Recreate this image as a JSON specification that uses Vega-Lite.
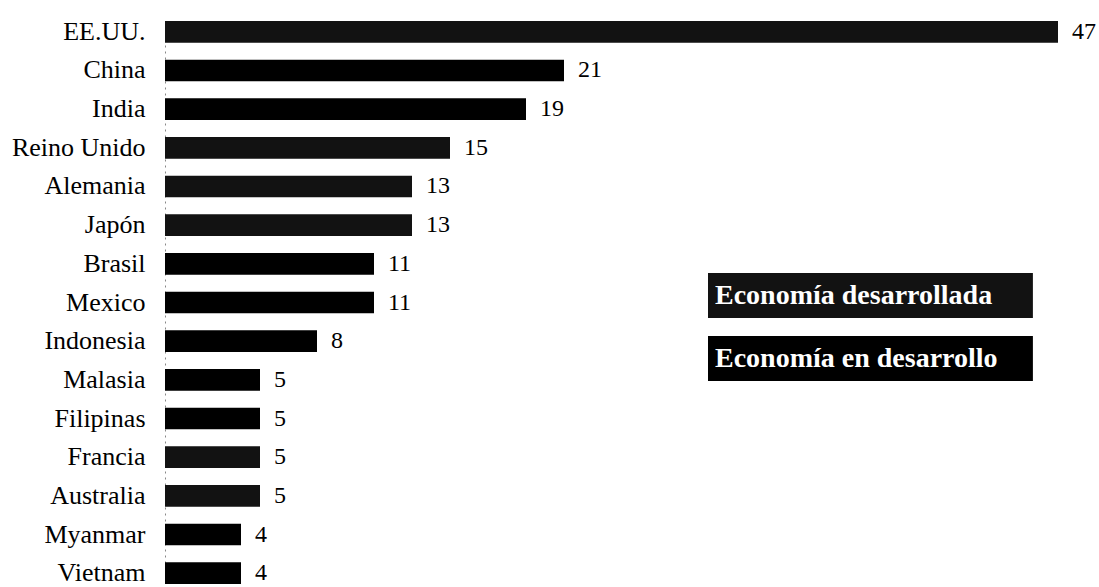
{
  "$schema": "https://vega.github.io/schema/vega-lite/v6.json",
  "width": 893,
  "height": 563,
  "autosize": {"type": "none"},
  "padding": {"left": 165, "top": 21, "right": 41, "bottom": 3},
  "background": "white",
  "config": {"view": {"stroke": null}, "font": "Liberation Serif"},
  "data": {
    "values": [
      {"pais": "EE.UU.", "valor": 47, "tipo": "Economía desarrollada"},
      {"pais": "China", "valor": 21, "tipo": "Economía en desarrollo"},
      {"pais": "India", "valor": 19, "tipo": "Economía en desarrollo"},
      {"pais": "Reino Unido", "valor": 15, "tipo": "Economía desarrollada"},
      {"pais": "Alemania", "valor": 13, "tipo": "Economía desarrollada"},
      {"pais": "Japón", "valor": 13, "tipo": "Economía desarrollada"},
      {"pais": "Brasil", "valor": 11, "tipo": "Economía en desarrollo"},
      {"pais": "Mexico", "valor": 11, "tipo": "Economía en desarrollo"},
      {"pais": "Indonesia", "valor": 8, "tipo": "Economía en desarrollo"},
      {"pais": "Malasia", "valor": 5, "tipo": "Economía en desarrollo"},
      {"pais": "Filipinas", "valor": 5, "tipo": "Economía en desarrollo"},
      {"pais": "Francia", "valor": 5, "tipo": "Economía desarrollada"},
      {"pais": "Australia", "valor": 5, "tipo": "Economía desarrollada"},
      {"pais": "Myanmar", "valor": 4, "tipo": "Economía en desarrollo"},
      {"pais": "Vietnam", "valor": 4, "tipo": "Economía en desarrollo"}
    ]
  },
  "encoding": {
    "y": {
      "field": "pais",
      "type": "nominal",
      "sort": null,
      "scale": {"paddingInner": 0.44, "paddingOuter": 0},
      "axis": {
        "title": null,
        "ticks": false,
        "labelFontSize": 26,
        "labelColor": "#000",
        "labelFont": "Liberation Serif",
        "labelPadding": 20,
        "domain": true,
        "domainColor": "#888",
        "domainDash": [2, 4],
        "domainWidth": 1
      }
    },
    "x": {
      "field": "valor",
      "type": "quantitative",
      "scale": {"domain": [0, 47], "nice": false},
      "axis": null
    }
  },
  "layer": [
    {
      "mark": {"type": "bar"},
      "encoding": {
        "color": {
          "field": "tipo",
          "type": "nominal",
          "scale": {"domain": ["Economía desarrollada", "Economía en desarrollo"], "range": ["#121212", "#000000"]},
          "legend": {
            "title": null,
            "orient": "none",
            "legendX": 543,
            "legendY": 252,
            "direction": "vertical",
            "symbolType": "M-1,-1H13.44V1H-1Z",
            "symbolSize": 2025,
            "symbolStrokeWidth": 0,
            "symbolOpacity": 1,
            "labelColor": "#ffffff",
            "labelFont": "Liberation Serif",
            "labelFontWeight": "bold",
            "labelFontSize": 28,
            "labelOffset": -38,
            "labelLimit": 400,
            "rowPadding": 18
          }
        }
      }
    },
    {
      "mark": {"type": "text", "align": "left", "baseline": "middle", "dx": 14, "fontSize": 24, "font": "Liberation Serif", "color": "#000"},
      "encoding": {"text": {"field": "valor", "type": "quantitative"}}
    }
  ]
}
